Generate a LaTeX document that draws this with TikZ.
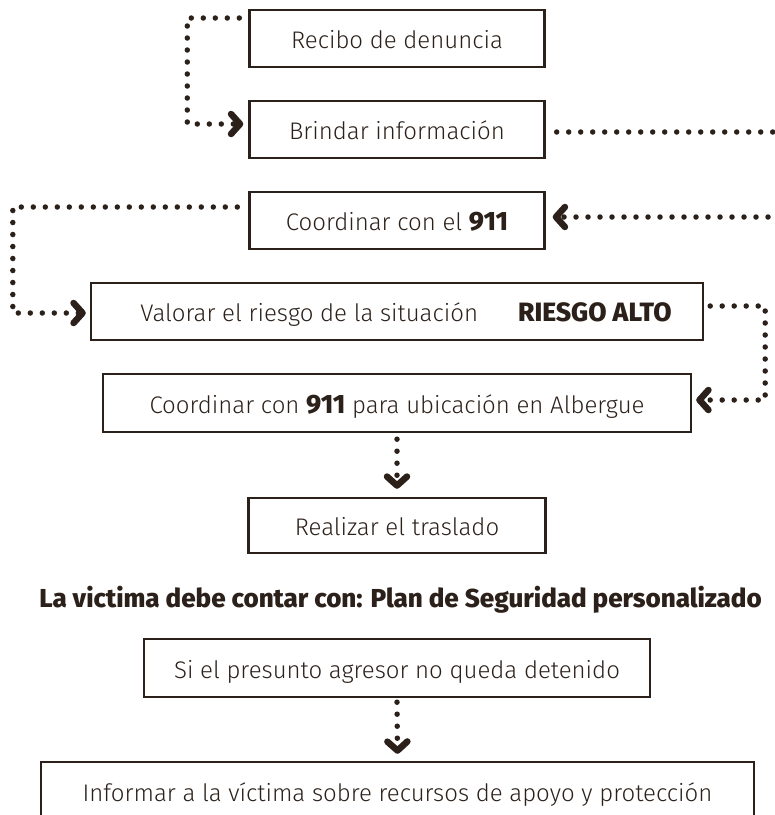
\documentclass[tikz,border=0pt]{standalone}
\usepackage{fontspec}
\IfFontExistsTF{Fira Sans Light}
  {\IfFontExistsTF{Fira Sans ExtraBold}
    {\setmainfont{Fira Sans}[UprightFont=* Light, BoldFont=* ExtraBold]}
    {\setmainfont{Fira Sans}[UprightFont=* Light, BoldFont=* Bold]}}
  {\setmainfont{Fira Sans}}
\usepackage{tikz}
\usetikzlibrary{positioning}
\usetikzlibrary{arrows.meta}
\definecolor{cafe}{RGB}{44,33,26}
\newcommand{\negrita}[1]{{\bfseries\fontsize{26.5}{28}\selectfont #1}}
\tikzstyle{process} = [rectangle, minimum width=295pt, minimum height=57pt, text centered, draw=cafe, line width=2.4pt, text=cafe, text height=24pt, text depth=4pt, font=\fontsize{24}{28}\selectfont]
\tikzstyle{titulo} = [text=cafe, text height=24pt, text depth=4pt, font=\bfseries\fontsize{26}{30}\selectfont]
\tikzstyle{dots} = [cafe, line width=5.5pt, line cap=round, dash pattern=on 0pt off 12pt]
\tikzstyle{arrow} = [dots, -{Straight Barb[length=9pt, width=20pt, line width=6.5pt, round]}]

\begin{document}
\begin{tikzpicture}[x=1pt, y=1pt, node distance=91pt]
	\useasboundingbox (0,0) rectangle (775,-815);
	\clip (0,0) rectangle (775,-815);
	\node (recibo) [process] at (397,-38.5) {Recibo de denuncia};
	\node (brindar) [process, below of=recibo] {Brindar información};
	\node (coord911) [process, below of=brindar] {Coordinar con el \negrita{911}};
	\node (valorar) [process, below of=coord911, minimum width=612pt] {\hspace*{18pt}Valorar el riesgo de la situación\hspace{40pt}\negrita{RIESGO ALTO}};
	\node (albergue) [process, below of=valorar, yshift=-0.5pt, minimum width=588pt, minimum height=58pt] {Coordinar con \negrita{911} para ubicación en Albergue};
	\node (realizar) [process, below of=albergue, yshift=-31.5pt, minimum width=297pt, minimum height=55pt] {Realizar el traslado};
	\node (plan) [titulo, below of=realizar, yshift=19.5pt, xshift=3.5pt] {La victima debe contar con: Plan de Seguridad personalizado};
	\node (presunto) [process, below of=plan, yshift=20pt, xshift=-3.5pt, minimum width=506pt, minimum height=58pt] {Si el presunto agresor no queda detenido};
	\node (informar) [process, below of=presunto, yshift=-32pt, xshift=0.5pt, minimum width=713pt, minimum height=58pt] {Informar a la víctima sobre recursos de apoyo y protección};
	\coordinate (finA) at (780,-132);
	\coordinate (finB) at (780,-217);
	%lines
	\draw [arrow] ([xshift=-9pt,yshift=20.5pt]recibo.west) -| ([xshift=-61pt,yshift=5.5pt]brindar.west) -- ([xshift=-5pt,yshift=5.5pt]brindar.west);
	\draw [dots] ([xshift=11pt,yshift=-2.5pt]brindar.east) -- (finA);
	\draw [arrow] (finB) -- ([xshift=7pt,yshift=3.5pt]coord911.east);
	\draw [arrow] ([xshift=-11pt,yshift=13.5pt]coord911.west) -| ([xshift=-77pt,yshift=-1.5pt]valorar.west) -- ([xshift=-4pt,yshift=-1.5pt]valorar.west);
	\draw [arrow] ([xshift=6pt,yshift=5.5pt]valorar.east) -| ([xshift=73pt,yshift=3pt]albergue.east) -- ([xshift=4pt,yshift=3pt]albergue.east);
	\draw [arrow] ([yshift=-6pt]albergue.south) -- ([yshift=8pt]realizar.north);
	\draw [arrow] ([yshift=-4pt]presunto.south) -- ([yshift=7pt]informar.north);
\end{tikzpicture}
\end{document}
